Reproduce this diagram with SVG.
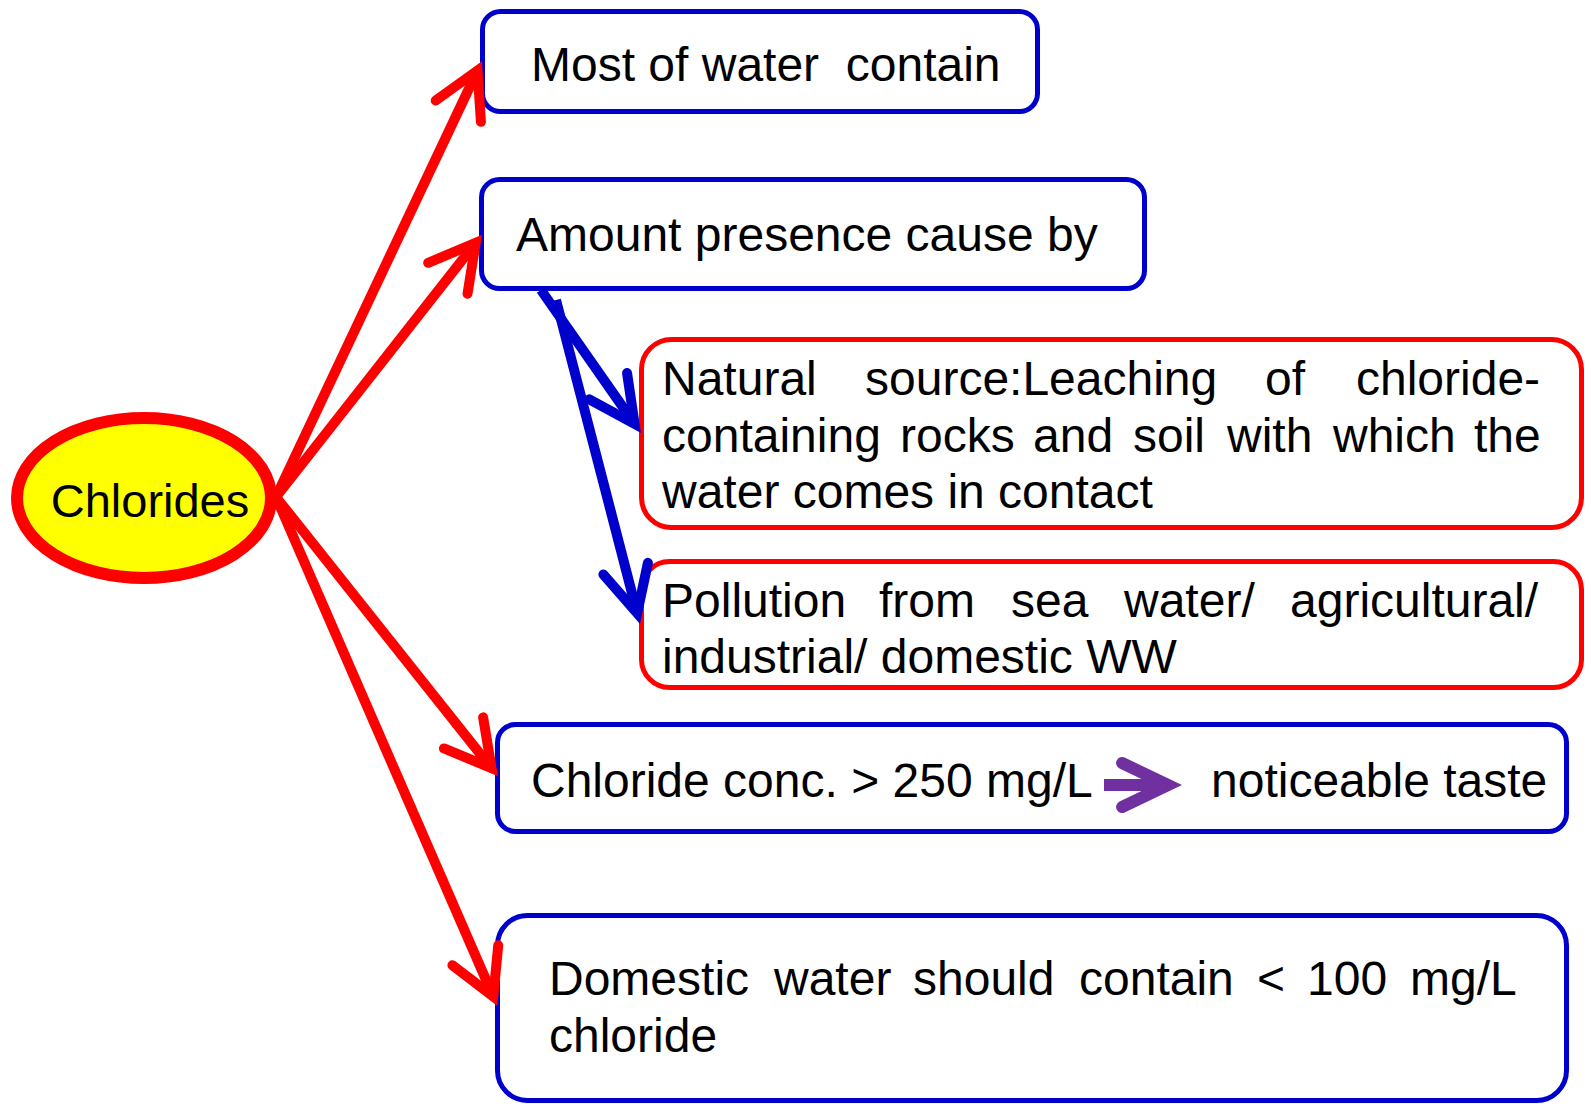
<svg xmlns="http://www.w3.org/2000/svg" width="1591" height="1104" viewBox="0 0 1591 1104">
  <style>
    .t { font-family: "Liberation Sans", Arial, sans-serif; font-size: 48px; fill: #000; white-space: pre; }
    .bluebox { fill: #fff; stroke: #0000CC; stroke-width: 5; }
    .redbox { fill: #fff; stroke: #FF0000; stroke-width: 5; }
    .red { fill: none; stroke: #FF0000; stroke-width: 10; }
    .blue { fill: none; stroke: #0000CC; stroke-width: 10; }
    .purple { fill: none; stroke: #7030A0; stroke-width: 12; }
  </style>
  <defs>
    <!-- open V heads; the vertex is set back so the mitred point lands on the line's target -->
    <marker id="head-red" markerUnits="userSpaceOnUse" viewBox="-60 -35 75 70" markerWidth="75" markerHeight="70" refX="0" refY="0" orient="auto" overflow="visible">
      <path d="M -43.3 -25 L 1.7 0 L -43.3 25" fill="none" stroke="#FF0000" stroke-width="10" stroke-linecap="round" stroke-linejoin="miter"/>
    </marker>
    <marker id="head-blue" markerUnits="userSpaceOnUse" viewBox="-60 -35 75 70" markerWidth="75" markerHeight="70" refX="0" refY="0" orient="auto" overflow="visible">
      <path d="M -45.2 -23 L 0.8 0 L -45.2 23" fill="none" stroke="#0000CC" stroke-width="10" stroke-linecap="round" stroke-linejoin="miter"/>
    </marker>
    <marker id="head-purple" markerUnits="userSpaceOnUse" viewBox="-60 -35 75 70" markerWidth="75" markerHeight="70" refX="0" refY="0" orient="auto" overflow="visible">
      <path d="M -45.9 -22 L 0.1 0 L -45.9 22" fill="none" stroke="#7030A0" stroke-width="12" stroke-linecap="round" stroke-linejoin="miter"/>
    </marker>
  </defs>

  <!-- boxes -->
  <g id="node-most">
    <rect class="bluebox" x="482.5" y="11.5" width="555" height="100" rx="18"/>
    <text class="t" x="531" y="81">Most of water  contain</text>
  </g>
  <g id="node-amount">
    <rect class="bluebox" x="481.5" y="179.5" width="663" height="109" rx="18"/>
    <text class="t" x="516" y="251">Amount presence cause by</text>
  </g>
  <g id="node-natural">
    <rect class="redbox" x="641.5" y="339.5" width="940" height="188" rx="30"/>
    <text class="t" y="395"><tspan x="662">Natural</tspan><tspan x="865">source:Leaching</tspan><tspan x="1265">of</tspan><tspan x="1356">chloride-</tspan></text>
    <text class="t" y="452"><tspan x="662">containing</tspan><tspan x="900">rocks</tspan><tspan x="1033">and</tspan><tspan x="1133">soil</tspan><tspan x="1227">with</tspan><tspan x="1333">which</tspan><tspan x="1474">the</tspan></text>
    <text class="t" x="662" y="508">water comes in contact</text>
  </g>
  <g id="node-pollution">
    <rect class="redbox" x="641.5" y="561.5" width="940" height="126" rx="28"/>
    <text class="t" y="617"><tspan x="662">Pollution</tspan><tspan x="879">from</tspan><tspan x="1011">sea</tspan><tspan x="1124">water/</tspan><tspan x="1290">agricultural/</tspan></text>
    <text class="t" x="662" y="673">industrial/ domestic WW</text>
  </g>
  <g id="node-taste">
    <rect class="bluebox" x="497.5" y="724.5" width="1069" height="107" rx="18"/>
    <text class="t" x="531" y="797">Chloride conc. &gt; 250 mg/L</text>
    <line class="purple" x1="1104" y1="785" x2="1168" y2="785" marker-end="url(#head-purple)"/>
    <text class="t" x="1211" y="797">noticeable taste</text>
  </g>
  <g id="node-domestic">
    <rect class="bluebox" x="497.5" y="915.5" width="1069" height="185" rx="30"/>
    <text class="t" y="995"><tspan x="549">Domestic</tspan><tspan x="774">water</tspan><tspan x="913">should</tspan><tspan x="1079">contain</tspan><tspan x="1257">&lt;</tspan><tspan x="1307">100</tspan><tspan x="1410">mg/L</tspan></text>
    <text class="t" x="549" y="1052">chloride</text>
  </g>

  <!-- connectors -->
  <g id="connectors">
    <line class="red" x1="276" y1="497" x2="476.8" y2="72" marker-end="url(#head-red)"/>
    <line class="red" x1="276" y1="497" x2="474.6" y2="244.2" marker-end="url(#head-red)"/>
    <line class="red" x1="276" y1="497" x2="490.5" y2="766.8" marker-end="url(#head-red)"/>
    <line class="red" x1="276" y1="497" x2="492.6" y2="995" marker-end="url(#head-red)"/>
    <line class="blue" x1="541" y1="290" x2="634.1" y2="423.2" marker-end="url(#head-blue)"/>
    <line class="blue" x1="556" y1="300" x2="637" y2="612.4" marker-end="url(#head-blue)"/>
  </g>

  <g id="node-chlorides">
    <ellipse cx="144" cy="498" rx="127" ry="80" fill="#FFFF00" stroke="#FF0000" stroke-width="12"/>
    <text class="t" x="150" y="517" text-anchor="middle" style="font-size:47px">Chlorides</text>
  </g>
</svg>
